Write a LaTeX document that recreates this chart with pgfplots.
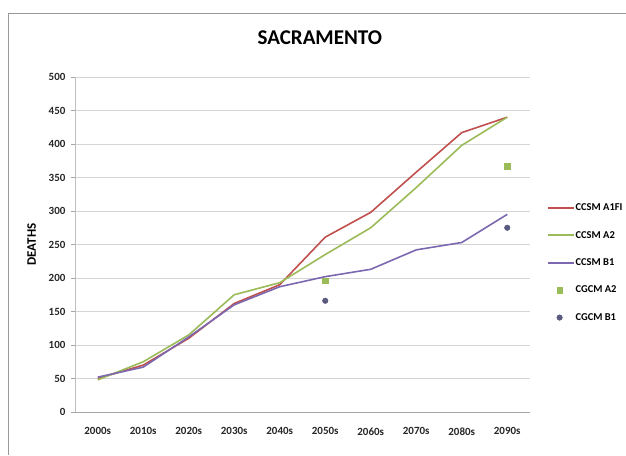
\documentclass[border=0pt]{standalone}
\usepackage{pgfplots}
\pgfplotsset{compat=1.18}
\usepackage{fontspec}
\setmainfont{Carlito}
\definecolor{cred}{HTML}{C0504D}
\definecolor{cgreen}{HTML}{9BBB59}
\definecolor{cpurple}{HTML}{7B68B0}
\definecolor{cgray}{HTML}{5A5A80}
\definecolor{gridc}{HTML}{D4D4D4}
\pgfplotsset{
  lineleg/.style={legend image code/.code={\draw[##1, line width=2pt] (0pt,0pt) -- (26pt,0pt);}},
  markleg/.style={legend image code/.code={\draw[##1] plot coordinates {(12pt,0pt)};}},
}
\begin{document}
\begin{tikzpicture}
\useasboundingbox (0pt,0pt) rectangle (626pt,455pt);
\draw[color=black!40, line width=0.8pt] (8pt,0pt) -- (8pt,442pt) -- (626pt,442pt);
\begin{axis}[
  at={(75pt,43pt)}, anchor=south west,
  scale only axis, width=455pt, height=335pt,
  xmin=-0.5, xmax=9.5, ymin=0, ymax=500,
  xtick={0,...,9},
  xticklabels={2000s,2010s,2020s,2030s,2040s,2050s,2060s,2070s,2080s,2090s},
  ytick={0,50,...,500},
  ymajorgrids, grid style={gridc, line width=0.8pt},
  axis x line*=bottom, axis y line*=left,
  x axis line style={draw=black!35, line width=0.8pt, -},
  y axis line style={draw=black!25, line width=0.6pt, -},
  xtick style={draw=none},
  ytick style={draw=black!35},
  tick align=outside, major tick length=4pt,
  /pgf/number format/assume math mode=true,
  ticklabel style={font=\fontsize{11}{13}\selectfont\bfseries, text=black!85},
  xticklabel style={yshift=-8pt},
  yticklabel style={xshift=-2pt},
  ylabel={DEATHS},
  ylabel style={at={(axis description cs:-0.095,0.5)}, anchor=center, font=\fontsize{13}{15}\selectfont\bfseries},
  title={SACRAMENTO},
  title style={at={(axis description cs:0.538,1.10)}, anchor=center, font=\fontsize{21}{25}\selectfont\bfseries},
  legend style={at={(axis description cs:1.036,0.625)}, anchor=north west, draw=none, fill=none,
    font=\fontsize{10.5}{12}\selectfont\bfseries, row sep=17pt, inner sep=0pt,
    nodes={inner sep=1pt}},
  legend cell align=left,
]
\addplot[cred, line width=1.6pt, lineleg] coordinates {
(0,50) (1,70) (2,110) (3,162) (4,190) (5,261) (6,298) (7,358) (8,417) (9,440)};
\addlegendentry{CCSM A1FI}
\addplot[cgreen, line width=1.6pt, lineleg] coordinates {
(0,48) (1,75) (2,115) (3,175) (4,193) (5,235) (6,275) (7,335) (8,398) (9,440)};
\addlegendentry{CCSM A2}
\addplot[cpurple, line width=1.6pt, lineleg] coordinates {
(0,52) (1,67) (2,112) (3,160) (4,187) (5,202) (6,213) (7,242) (8,253) (9,295)};
\addlegendentry{CCSM B1}
\addplot[only marks, mark=square*, mark size=2.8pt, cgreen, markleg] coordinates {
(5,196) (9,367)};
\addlegendentry{CGCM A2}
\addplot[only marks, mark=*, mark size=2.8pt, cgray, markleg] coordinates {
(5,166) (9,275)};
\addlegendentry{CGCM B1}
\end{axis}
\end{tikzpicture}
\end{document}
